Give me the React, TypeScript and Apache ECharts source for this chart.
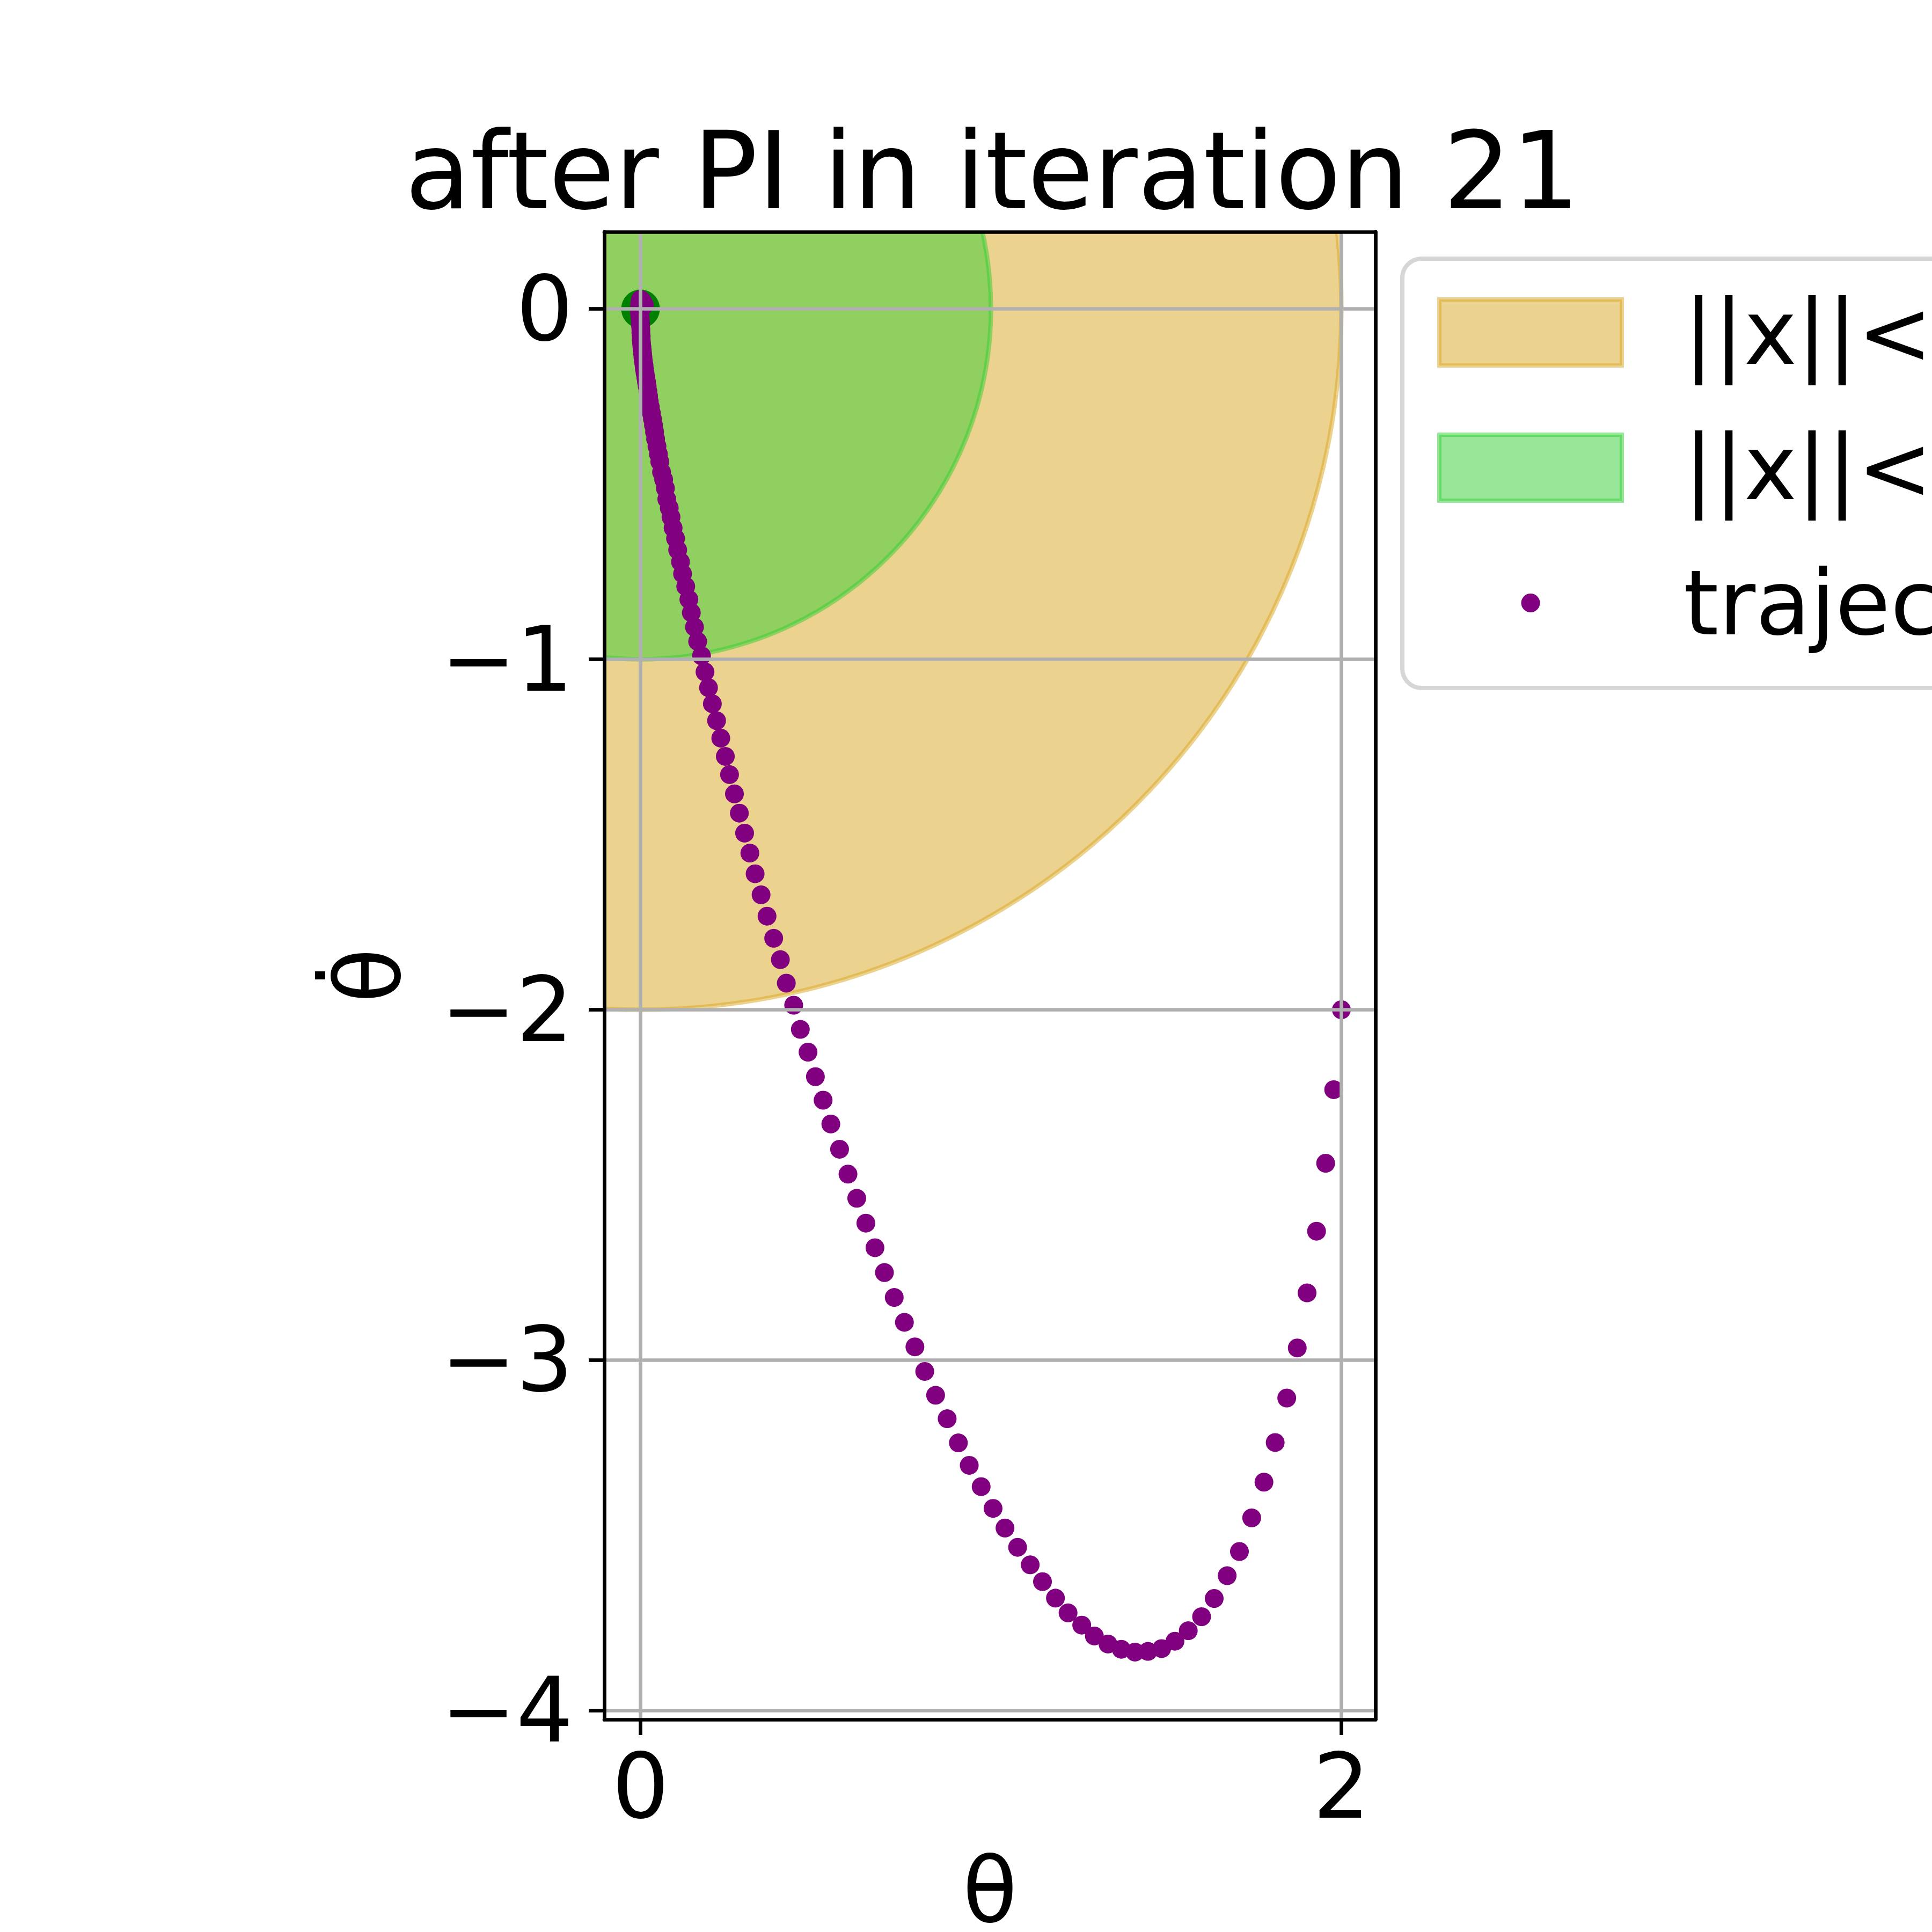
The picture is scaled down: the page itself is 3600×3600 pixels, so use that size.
import {useEffect, useRef} from "react";
import * as echarts from "echarts";

const chartTitle = "after PI in iteration 21";
const xName = "θ";
const yName = "θ̇";
const xTicks = [0, 2];
const yTicks = [0, -1, -2, -3, -4];
const xRange = [-0.1034, 2.0972];
const yRange = [-4.0253, 0.2198];

const regionNames = ["||x||<2", "||x||<1"];
const regionRadii = [2, 1];
const regionColors = ["rgba(218,165,32,0.5)", "rgba(50,205,50,0.5)"];

const goalPoint = [0, 0];
const trajectoryName = "trajectory";
const trajectory: number[][] = [
    [2.000, -2.000], [1.978, -2.228], [1.955, -2.438], [1.929, -2.632], [1.902, -2.808], [1.874, -2.965],
    [1.844, -3.108], [1.811, -3.235], [1.779, -3.348], [1.744, -3.450], [1.709, -3.546], [1.674, -3.615],
    [1.637, -3.680], [1.601, -3.732], [1.563, -3.772], [1.525, -3.802], [1.487, -3.823], [1.448, -3.831],
    [1.411, -3.833], [1.372, -3.825], [1.334, -3.810], [1.295, -3.787], [1.259, -3.756], [1.220, -3.721],
    [1.184, -3.679], [1.147, -3.632], [1.112, -3.584], [1.076, -3.534], [1.040, -3.479], [1.006, -3.423],
    [0.972, -3.361], [0.938, -3.300], [0.907, -3.236], [0.875, -3.167], [0.842, -3.100], [0.811, -3.032],
    [0.783, -2.962], [0.753, -2.892], [0.724, -2.821], [0.696, -2.750], [0.669, -2.679], [0.643, -2.609],
    [0.617, -2.538], [0.592, -2.469], [0.568, -2.398], [0.543, -2.326], [0.521, -2.258], [0.499, -2.191],
    [0.478, -2.121], [0.456, -2.056], [0.437, -1.987], [0.416, -1.924], [0.399, -1.857], [0.380, -1.796],
    [0.361, -1.733], [0.344, -1.672], [0.327, -1.612], [0.312, -1.553], [0.297, -1.496], [0.282, -1.439],
    [0.268, -1.384], [0.254, -1.329], [0.242, -1.277], [0.229, -1.225], [0.217, -1.175], [0.205, -1.127],
    [0.194, -1.081], [0.184, -1.036], [0.174, -0.990], [0.163, -0.949], [0.154, -0.908], [0.145, -0.867],
    [0.138, -0.829], [0.129, -0.792], [0.120, -0.756], [0.114, -0.722], [0.106, -0.688], [0.100, -0.655],
    [0.093, -0.625], [0.087, -0.594], [0.082, -0.568], [0.075, -0.543], [0.071, -0.512], [0.066, -0.487],
    [0.060, -0.466], [0.055, -0.436], [0.051, -0.414], [0.047, -0.392], [0.043, -0.371], [0.040, -0.351],
    [0.037, -0.332], [0.034, -0.314], [0.031, -0.297], [0.028, -0.280], [0.025, -0.264], [0.023, -0.249],
    [0.021, -0.235], [0.019, -0.221], [0.017, -0.208], [0.015, -0.195], [0.013, -0.183], [0.011, -0.171],
    [0.010, -0.160], [0.008, -0.149], [0.007, -0.138], [0.006, -0.128], [0.005, -0.118], [0.004, -0.108],
    [0.003, -0.098], [0.002, -0.088], [0.002, -0.078], [0.001, -0.068], [0.001, -0.058], [0.000, -0.048],
    [0.000, -0.038], [-0.001, -0.028], [-0.002, -0.018], [-0.003, -0.008], [-0.003, 0.005], [-0.002, 0.017],
    [0.000, 0.027], [0.005, 0.022], [0.011, 0.011],
];

const FONT = "DejaVu Sans";
const LW = 6.7;
const minus = (v: number) => (v < 0 ? "\u2212" + Math.abs(v) : String(v));
// small dot centred in a 340x123 box (the two moveTo's set the bounds)
const dotIcon = "path://M0,0M340,123M152.5,61.5a17.5,17.5 0 1,0 35,0a17.5,17.5 0 1,0 -35,0z";

function circleItem(fill: string) {
    return (_params: any, api: any) => {
        const c = api.coord([api.value(0), api.value(1)]);
        const r = api.size([api.value(2), 0])[0];
        return {
            type: "circle",
            shape: {cx: c[0], cy: c[1], r},
            style: {fill, stroke: fill, lineWidth: 8.3},
        };
    };
}

export default function App() {
    const domRef = useRef<HTMLDivElement>(null);

    useEffect(() => {
        if (!domRef.current) return;
        const chart = echarts.init(domRef.current, null, {renderer: "svg"});
        const labelText = {fontSize: 167, lineHeight: 167, fontFamily: FONT, color: "#000"};
        const frame = {show: true, onZero: false, lineStyle: {color: "#000", width: LW}};
        chart.setOption({
            animation: false,
            backgroundColor: "#fff",
            title: {
                text: chartTitle,
                left: 1844,
                top: 213,
                textAlign: "center",
                textStyle: {fontSize: 200, lineHeight: 200, fontFamily: FONT, fontWeight: "normal", color: "#000"},
            },
            grid: {left: 1126, top: 432, width: 1437, height: 2772, containLabel: false, outerBoundsMode: "none"},
            legend: {
                orient: "vertical",
                left: 2613,
                top: 482,
                padding: [54, 60, 75, 65],
                itemWidth: 340,
                itemHeight: 123,
                itemGap: 85,
                backgroundColor: "rgba(255,255,255,0.8)",
                borderColor: "rgba(204,204,204,0.8)",
                borderWidth: 8,
                borderRadius: 36,
                selectedMode: false,
                textStyle: {fontSize: 167, fontFamily: FONT, color: "#000", padding: [0, 0, 0, 110]},
                data: [
                    {name: regionNames[0], icon: "rect", itemStyle: {color: regionColors[0], borderColor: regionColors[0], borderWidth: 8}},
                    {name: regionNames[1], icon: "rect", itemStyle: {color: regionColors[1], borderColor: regionColors[1], borderWidth: 8}},
                    {name: trajectoryName, icon: dotIcon, itemStyle: {color: "#800080", borderWidth: 0}},
                ],
            },
            xAxis: [
                {
                    type: "value", min: xRange[0], max: xRange[1], position: "bottom", z: 3,
                    axisLine: frame,
                    axisTick: {show: true, length: 29, customValues: xTicks, lineStyle: {color: "#000", width: LW}},
                    axisLabel: {...labelText, margin: 41, customValues: xTicks, formatter: minus},
                    splitLine: {show: true, lineStyle: {color: "#b0b0b0", width: LW}},
                    name: xName, nameLocation: "middle", nameGap: 259,
                    nameTextStyle: {...labelText, lineHeight: 120},
                },
                {
                    type: "value", min: xRange[0], max: xRange[1], position: "top", z: 3,
                    axisLine: frame, axisTick: {show: false}, axisLabel: {show: false}, splitLine: {show: false},
                },
            ],
            yAxis: [
                {
                    type: "value", min: yRange[0], max: yRange[1], position: "left", z: 3,
                    axisLine: frame,
                    axisTick: {show: true, length: 29, customValues: yTicks, lineStyle: {color: "#000", width: LW}},
                    axisLabel: {...labelText, margin: 58, customValues: yTicks, formatter: minus},
                    splitLine: {show: true, lineStyle: {color: "#b0b0b0", width: LW}},
                    name: yName, nameLocation: "middle", nameRotate: 90, nameGap: 356, nameTextStyle: labelText,
                },
                {
                    type: "value", min: yRange[0], max: yRange[1], position: "right", z: 3,
                    axisLine: frame, axisTick: {show: false}, axisLabel: {show: false}, splitLine: {show: false},
                },
            ],
            series: [
                ...regionNames.map((name, i) => ({
                    name,
                    type: "custom",
                    clip: true,
                    silent: true,
                    encode: {x: 0, y: 1},
                    data: [[goalPoint[0], goalPoint[1], regionRadii[i]]],
                    renderItem: circleItem(regionColors[i]),
                })),
                {
                    name: "goal",
                    type: "scatter",
                    silent: true,
                    symbolSize: 72,
                    itemStyle: {color: "#008000", opacity: 1},
                    data: [goalPoint],
                },
                {
                    name: trajectoryName,
                    type: "scatter",
                    silent: true,
                    symbolSize: 35,
                    itemStyle: {color: "#800080", opacity: 1},
                    data: trajectory,
                },
            ],
        });
        return () => chart.dispose();
    }, []);

    return <div ref={domRef} style={{position: "fixed", left: 0, top: 0, width: 3600, height: 3600}} />;
}
